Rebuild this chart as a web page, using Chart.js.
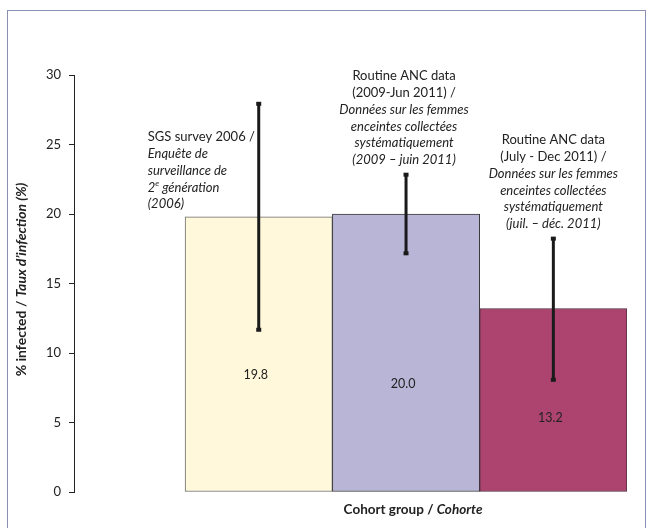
<!DOCTYPE html>
<html>
<head>
<meta charset="utf-8">
<script src="https://cdn.jsdelivr.net/npm/chart.js@4.4.0/dist/chart.umd.min.js"></script>
<style>
    html, body { margin: 0; padding: 0; background: #fff; overflow: hidden; }
    #wrap { position: relative; width: 652px; height: 528px; }
    #frame {
        position: absolute; left: 7px; top: 10px; width: 637px; height: 540px;
        border: 1.5px solid #8a90b4; border-bottom: none;
    }
    #chart { position: absolute; left: 0; top: 0; }
</style>
</head>
<body>
<div id="wrap">
    <div id="frame"></div>
    <canvas id="chart" width="652" height="528"></canvas>
</div>
<script>
const cohorts = ['SGS survey 2006', 'Routine ANC 2009-Jun 2011', 'Routine ANC Jul-Dec 2011'];
const infected = [19.8, 20.0, 13.2];
const errLow = [11.6, 17.1, 8.0];
const errHigh = [28.0, 22.9, 18.3];
const yTicks = [0, 5, 10, 15, 20, 25, 30];

const FONT = 'Lato, "Open Sans", sans-serif';
const INK = '#222';

// texte au-dessus des barres: [texte, italique]
const notes = [
    { align: 'left', dx: -111, y: 137, lines: [
        ['SGS survey 2006 /', false],
        ['Enquête de', true],
        ['surveillance de', true],
        ['2^e génération', true],
        ['(2006)', true]
    ]},
    { align: 'center', dx: -2, y: 76, lines: [
        ['Routine ANC data', false],
        ['(2009-Jun 2011) /', false],
        ['Données sur les femmes', true],
        ['enceintes collectées', true],
        ['systématiquement', true],
        ['(2009 – juin 2011)', true]
    ]},
    { align: 'center', dx: 0, y: 140, lines: [
        ['Routine ANC data', false],
        ['(July - Dec 2011) /', false],
        ['Données sur les femmes', true],
        ['enceintes collectées', true],
        ['systématiquement', true],
        ['(juil. – déc. 2011)', true]
    ]}
];
const labelAt = [8.4, 7.8, 5.3];

function drawSegments(ctx, segs, x, y, align) {
    let total = 0;
    segs.forEach(function (s) { ctx.font = s[1]; total += ctx.measureText(s[0]).width; });
    let cx = align === 'center' ? x - total / 2 : x;
    ctx.textAlign = 'left';
    segs.forEach(function (s) {
        ctx.font = s[1];
        ctx.fillText(s[0], cx, y);
        cx += ctx.measureText(s[0]).width;
    });
}

const extras = {
    id: 'extras',
    afterDatasetsDraw(chart) {
        const ctx = chart.ctx;
        const y = chart.scales.y;
        const bars = chart.getDatasetMeta(0).data;
        ctx.save();

        // barres d'erreur
        ctx.strokeStyle = '#1a1a1a';
        ctx.fillStyle = '#1a1a1a';
        ctx.lineWidth = 3;
        bars.forEach(function (bar, i) {
            const top = y.getPixelForValue(errHigh[i]);
            const bot = y.getPixelForValue(errLow[i]);
            ctx.beginPath();
            ctx.moveTo(bar.x, top);
            ctx.lineTo(bar.x, bot);
            ctx.stroke();
            ctx.fillRect(bar.x - 2.5, top - 1, 5, 4);
            ctx.fillRect(bar.x - 2.5, bot - 3, 5, 4);
        });

        // valeurs
        ctx.fillStyle = INK;
        ctx.textBaseline = 'middle';
        ctx.textAlign = 'center';
        ctx.font = '12.5px ' + FONT;
        bars.forEach(function (bar, i) {
            ctx.fillText(infected[i].toFixed(1), bar.x - 3, y.getPixelForValue(labelAt[i]));
        });

        // annotations
        notes.forEach(function (n, i) {
            const x = bars[i].x + n.dx;
            n.lines.forEach(function (l, k) {
                const ly = n.y + k * 16.8;
                const f = (l[1] ? 'italic ' : '') + '13px ' + FONT;
                if (l[0].indexOf('^') >= 0) {
                    const parts = l[0].split('^');
                    ctx.font = f;
                    ctx.textAlign = 'left';
                    ctx.fillText(parts[0], x, ly);
                    let cx = x + ctx.measureText(parts[0]).width;
                    const sup = parts[1].charAt(0);
                    ctx.font = (l[1] ? 'italic ' : '') + '8px ' + FONT;
                    ctx.fillText(sup, cx, ly - 4);
                    cx += ctx.measureText(sup).width;
                    ctx.font = f;
                    ctx.fillText(parts[1].slice(1), cx, ly);
                } else {
                    ctx.font = f;
                    ctx.textAlign = n.align;
                    ctx.fillText(l[0], x, ly);
                }
            });
        });

        // titres des axes
        drawSegments(ctx, [['Cohort group / ', 'bold 13.5px ' + FONT], ['Cohorte', 'italic bold 13.5px ' + FONT]],
            (bars[0].x + bars[2].x) / 2 + 7, 510, 'center');
        ctx.translate(21, (y.top + y.bottom) / 2 - 4);
        ctx.rotate(-Math.PI / 2);
        drawSegments(ctx, [['% infected / ', 'bold 14px ' + FONT], ['Taux d\u2019infection (%)', 'italic bold 14px ' + FONT]], 0, 0, 'center');
        ctx.restore();
    }
};

new Chart(document.getElementById('chart'), {
    type: 'bar',
    data: {
        labels: cohorts,
        datasets: [{
            data: infected.map(function (v, i) { return { x: i + 1, y: v }; }),
            backgroundColor: ['#fff8da', '#b9b5d6', '#ad4470'],
            borderColor: ['#6a6a6a', '#3a3a3a', '#4a2a3a'],
            borderWidth: 1,
            borderSkipped: false,
            barPercentage: 1,
            categoryPercentage: 1
        }]
    },
    options: {
        responsive: false,
        animation: false,
        layout: { padding: { left: 0, right: 25, top: 75, bottom: 36 } },
        plugins: { legend: { display: false }, tooltip: { enabled: false } },
        scales: {
            x: {
                type: 'linear', min: -0.254, max: 3.5, display: false,
                offset: false, bounds: 'data', grid: { offset: false },
                afterBuildTicks: function (s) { s.ticks = cohorts.map(function (c, i) { return { value: i + 1 }; }); }
            },
            y: {
                min: 0,
                max: 30,
                afterBuildTicks: function (s) { s.ticks = yTicks.map(function (v) { return { value: v }; }); },
                afterFit: function (s) { s.width = 74; },
                grid: { drawOnChartArea: false, tickLength: 5, color: INK },
                border: { color: INK },
                ticks: { padding: 8, color: INK, font: { family: FONT, size: 13 } }
            }
        }
    },
    plugins: [extras]
});
</script>
</body>
</html>
